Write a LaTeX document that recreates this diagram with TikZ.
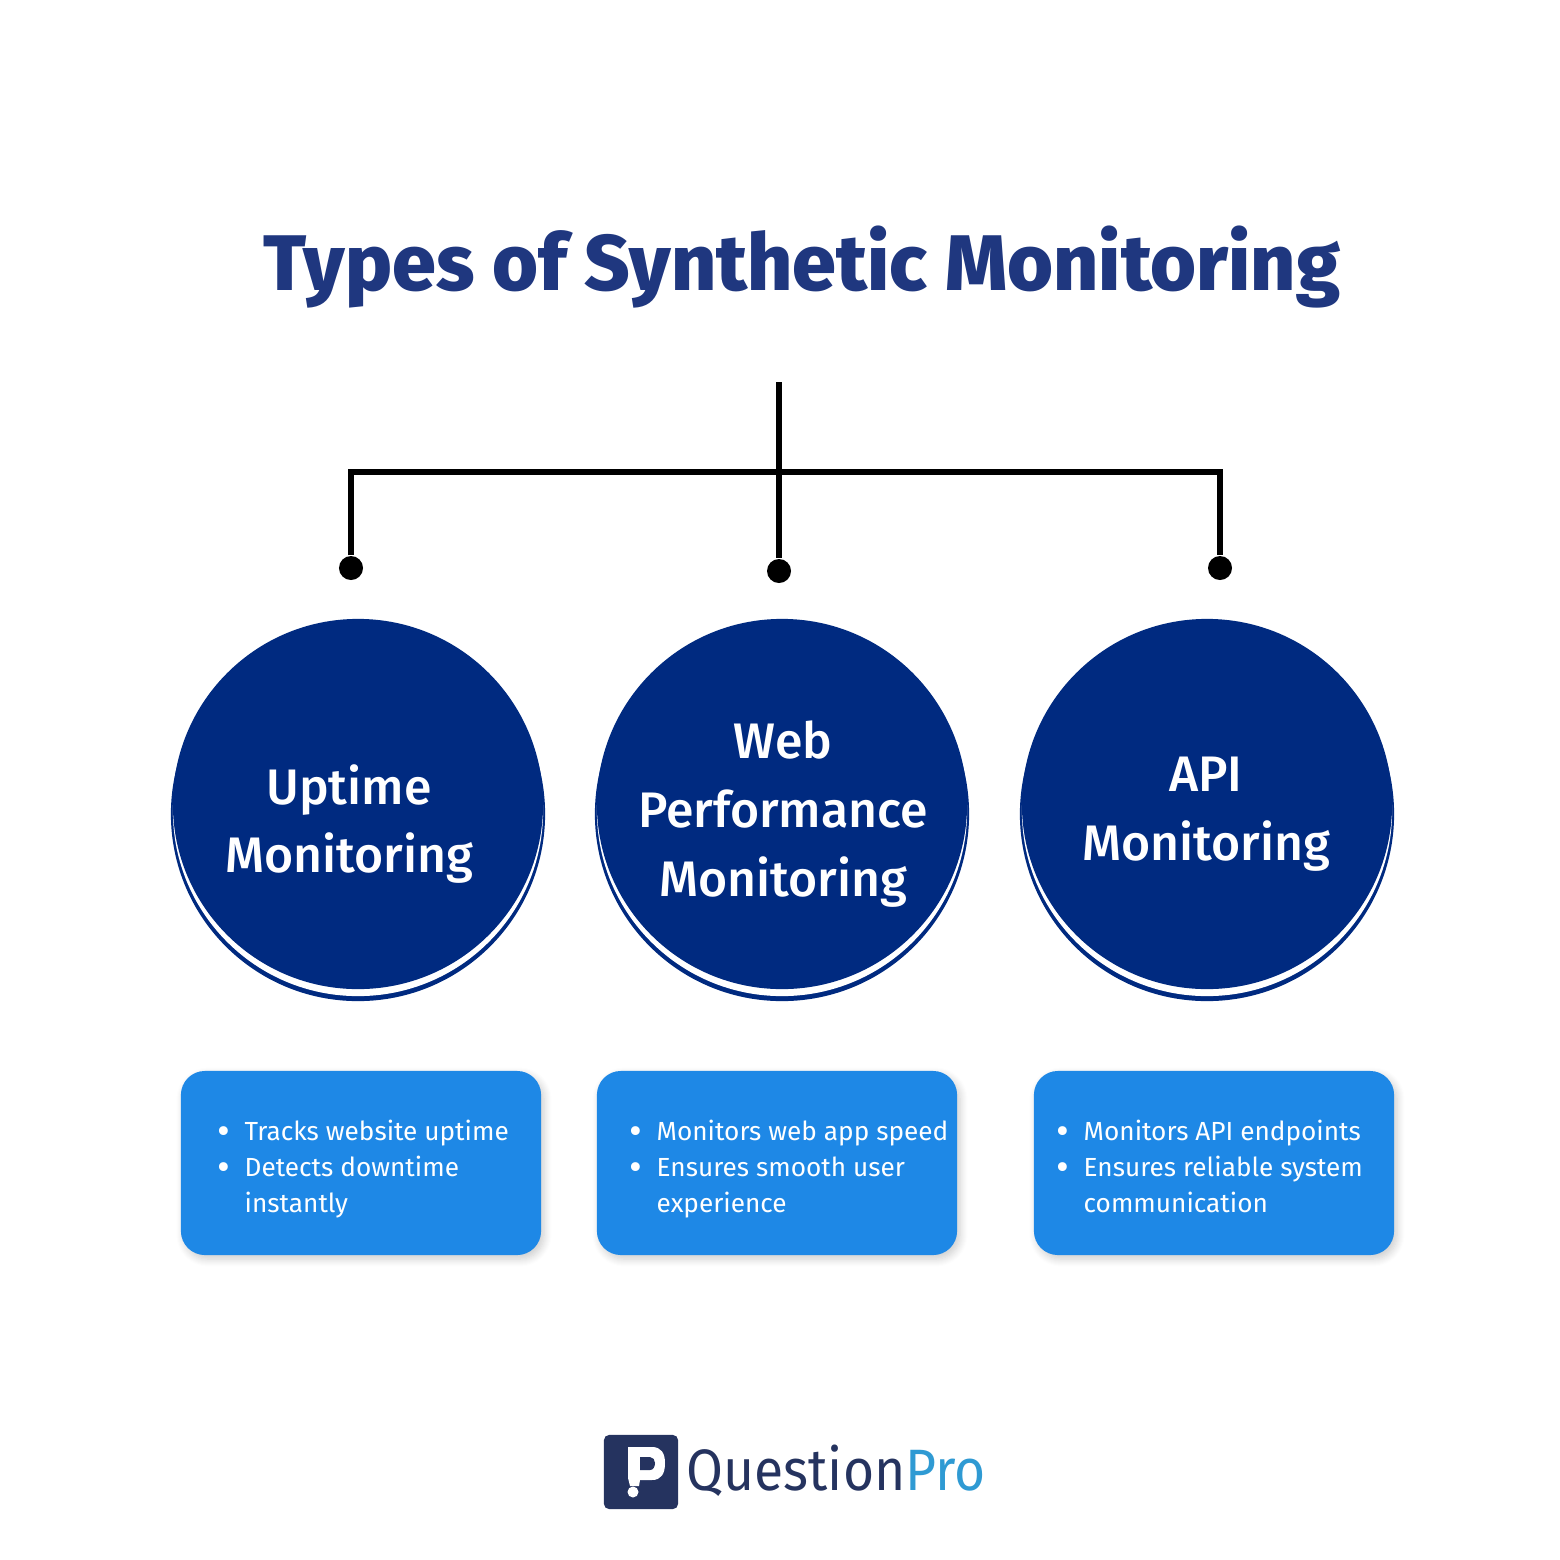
\documentclass[tikz,border=0pt]{standalone}
\usepackage{fontspec}
\setmainfont{Fira Sans}
\newfontfamily\mediumfont{Fira Sans Medium}
\newfontfamily\heavyfont{Fira Sans ExtraBold}
\usepackage{xcolor}
\usetikzlibrary{positioning, shadows.blur}

\definecolor{titleblue}{HTML}{1F377F}
\definecolor{discblue}{HTML}{002A80}
\definecolor{boxblue}{HTML}{1E88E6}
\definecolor{logonavy}{HTML}{25335F}
\definecolor{logosky}{HTML}{2F9AD3}

\newcommand{\bul}{\llap{\raisebox{-0.04cm}{\scalebox{1.5}{\textbullet}}\hspace{0.14cm}}}

\begin{document}
\begin{tikzpicture}[
        x=0.01cm, y=-0.01cm,
        disc/.style={
            circle,
            fill=discblue,
            inner sep=0pt,
            minimum size=3.70cm
        },
        ring/.style={
            circle,
            fill=discblue,
            inner sep=0pt,
            minimum size=3.74cm
        },
        gap/.style={
            circle,
            fill=white,
            inner sep=0pt,
            minimum size=3.70cm
        },
        heading/.style={
            text=white,
            align=center,
            font=\mediumfont\fontsize{14.2pt}{19.6pt}\selectfont
        },
        infobox/.style={
            rectangle,
            fill=boxblue,
            rounded corners=0.24cm,
            minimum width=3.60cm,
            minimum height=1.84cm,
            blur shadow={shadow blur steps=8, shadow xshift=0.03cm, shadow yshift=-0.04cm, shadow opacity=20}
        },
        infotext/.style={
            anchor=north west,
            inner sep=0pt,
            text=white,
            align=left,
            font=\fontsize{7.45pt}{10.25pt}\selectfont
        },
        pin/.style={
            circle,
            fill=black,
            inner sep=0pt,
            minimum size=0.24cm
        },
        branch/.style={
            draw=black,
            line width=0.06cm
        }
    ]
    \useasboundingbox (0,0) rectangle (1560,1560);

    % Title
    \node[text=titleblue, font=\heavyfont\fontsize{22.4pt}{26pt}\selectfont] (title) at (802,267) {Types of Synthetic Monitoring};

    % Tree
    \coordinate (stem) at (779,382);
    \coordinate (cornerleft) at (351,472);
    \coordinate (cornerright) at (1220,472);
    \node[pin] (pinuptime) at (351,568) {};
    \node[pin] (pinweb) at (779,571) {};
    \node[pin] (pinapi) at (1220,568) {};
    \draw[branch] (pinuptime) -- (cornerleft) -- (cornerright) -- (pinapi);
    \draw[branch] (stem) -- (pinweb);

    % Circles
    \node[ring] (ringuptime) at (358,814) {};
    \node[gap] (gapuptime) at (358,811) {};
    \node[disc] (uptime) at (358,804) {};
    \node[heading] (uptimelabel) at (349,824) {Uptime\\Monitoring};

    \node[ring] (ringweb) at (782,814) {};
    \node[gap] (gapweb) at (782,811) {};
    \node[disc] (web) at (782,804) {};
    \node[heading] (weblabel) at (783,814) {Web\\Performance\\Monitoring};

    \node[ring] (ringapi) at (1207,814) {};
    \node[gap] (gapapi) at (1207,811) {};
    \node[disc] (api) at (1207,804) {};
    \node[heading] (apilabel) at (1206,814) {API\\Monitoring};

    % Boxes
    \node[infobox] (uptimebox) at (361,1163) {};
    \node[infobox] (webbox) at (777,1163) {};
    \node[infobox] (apibox) at (1214,1163) {};

    \node[infotext] (uptimetext) at (244,1119) {\bul Tracks website uptime\\\bul Detects downtime\\instantly};
    \node[infotext] (webtext) at (656,1119) {\bul Monitors web app speed\\\bul Ensures smooth user\\experience};
    \node[infotext] (apitext) at (1083,1119) {\bul Monitors API endpoints\\\bul Ensures reliable system\\communication};

    % Logo
    \node[rectangle, fill=logonavy, rounded corners=0.05cm, minimum size=0.74cm, inner sep=0pt] (logobox) at (641,1472) {};
    \fill[white] (628,1447) -- (652,1447) .. controls (661,1447) and (665,1453) .. (665,1463)
        .. controls (665,1474) and (661,1480) .. (652,1480) -- (640,1480) -- (639,1486) -- (630,1486)
        -- (628,1478) -- cycle;
    \fill[logonavy] (640,1457) -- (650,1457) .. controls (653,1457) and (655,1460) .. (655,1463)
        .. controls (655,1467) and (653,1470) .. (650,1470) -- (640,1470) -- cycle;
    \node[circle, fill=white, inner sep=0pt, minimum size=0.11cm] (logodot) at (633,1492) {};
    \node[anchor=west, inner sep=0pt, font=\fontsize{16.6pt}{20pt}\selectfont, xscale=0.915] (logoword) at (686,1471) {\textcolor{logonavy}{Question}\textcolor{logosky}{Pro}};

\end{tikzpicture}
\end{document}
